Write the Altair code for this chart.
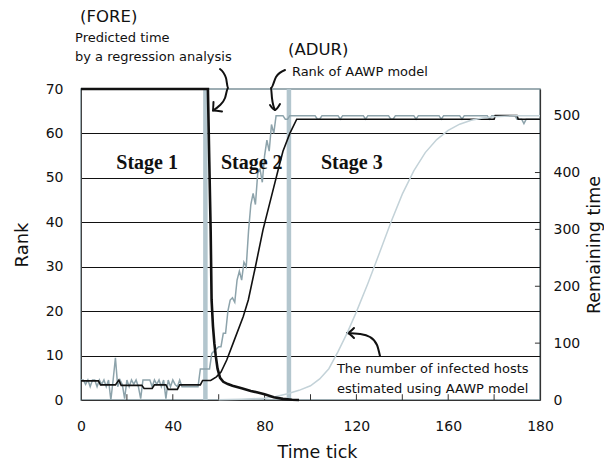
import altair as alt
import pandas as pd

FONT = "DejaVu Sans"
SERIF = "Liberation Serif"

# ---------------- data ----------------
# Rank of AAWP model (gray noisy line), one value per time tick 0..200
gray_stage1 = [4.5, 4.5, 3.5, 4.5, 3, 4.5, 4.5, 3, 4.5, 3.5,
               4.5, 3, 4.5, 0, 4.5, 9.5, 3, 4.5, 3.5, 0.3,
               4.5, 3, 4.5, 3.5, 4.5, 3, 0.3, 4.5, 4.5, 4.5,
               4.5, 3, 4.5, 3.5, 4.5, 3, 4.5, 0.3, 4.5, 3,
               4.5, 3.5, 3, 4.5, 3, 3, 3, 3, 3, 3,
               3, 3, 7, 7, 7]
gray_stage2 = [7, 7, 10.5, 11, 11.5, 12, 12, 15, 15, 20,
               22.5, 23, 22, 27, 29, 27, 31, 30, 38, 44,
               46.5, 44, 51, 52, 49, 55, 58.5, 56, 62, 60, 64]
gray_stage3 = [64, 64, 64, 63.2, 63.2, 64, 64, 64, 64, 64,
               64, 64, 64, 64, 64, 64, 64, 63.2, 63.2, 64,
               64, 64, 64, 64, 64, 64, 64, 63.2, 64, 64,
               64, 64, 64, 64, 64, 64, 64, 64, 63.2, 64,
               64, 64, 64, 64, 64, 64, 64, 64, 64, 63.2,
               63.2, 64, 64, 64, 64, 64, 64, 64, 64, 64,
               63.2, 64, 64, 64, 64, 64, 64, 64, 64, 64,
               64, 63.2, 64, 64, 64, 64, 64, 64, 64, 64,
               63.2, 64, 64, 64, 64, 64, 64, 64, 64, 64,
               64, 64, 63.2, 64, 64, 64, 64, 64, 64, 64,
               64, 64, 64, 64, 63.2, 63.2, 63.2, 62.2, 63.2, 63.2,
               63.2, 63.2, 63.2, 63.2, 63.2]
gray_rank = gray_stage1 + gray_stage2 + gray_stage3
gray_t = list(range(len(gray_rank)))

# Black rank line
black_t = [0, 7.6, 8.5, 15, 16.5, 17.5, 26.5, 27.5, 31, 32, 37, 38, 42, 43, 52, 53,
           56.5, 59, 61, 63.5, 66.3, 70.7, 72.9, 76, 79.3, 83.7, 86, 88, 91, 94,
           180, 180.5, 190, 190.5, 200]
black_rank = [4.3, 4.3, 3.4, 3.4, 4.5, 3.3, 3.3, 2.6, 2.6, 3.4, 3.4, 2.4, 2.4, 3.4, 3.4, 4.4,
              4.4, 5.2, 6.3, 9, 12.8, 18.8, 22.5, 30, 38.3, 47.3, 52, 56, 60, 63.2,
              63.2, 64, 64, 63.2, 63.2]

# (FORE) predicted remaining time (right axis)
fore_t = [0, 55.3, 55.9, 56.5, 56.9, 57.5, 58.1, 58.7, 59.5, 60.6, 62, 64, 66, 70,
          74, 77, 80, 84, 88, 92, 95]
fore_val = [547, 547, 420, 297, 176, 130, 100, 78, 55, 39, 32, 28, 25, 20.5,
            16, 13, 10, 5, 2, 0.5, 0]

# Number of infected hosts estimated using AAWP model (right axis)
sig_t = [60, 70, 80, 85, 90, 95, 100, 104, 108, 112, 116, 120, 125, 130, 135, 140,
         145, 150, 155, 160, 165, 170, 175, 180, 190, 200]
sig_val = [0.5, 1.5, 3, 6, 11, 17, 25, 37, 55, 85, 118, 155, 205, 258, 312, 362,
           403, 435, 458, 474, 485, 492, 496, 498, 500, 500]

stage_bounds = [54.2, 90.6]
x_minor_ticks = [20, 40, 60, 80, 100, 120, 140, 160, 180]
right_minor_ticks = [100, 200, 300, 400]
x_label_values = [0, 40, 80, 120, 160, 200]
left_values = [0, 10, 20, 30, 40, 50, 60, 70]
right_values = [0, 100, 200, 300, 400, 500]

# annotations (data coordinates: time tick, rank)
big_notes = pd.DataFrame({"x": [-0.4, 90.2], "y": [85.0, 77.6], "text": ["(FORE)", "(ADUR)"]})
small_notes = pd.DataFrame({
    "x": [-2.6, -2.6, 91.9, 111.5, 111.5],
    "y": [80.6, 76.3, 73.0, 6.0, 1.65],
    "text": ["Predicted time", "by a regression analysis", "Rank of AAWP model",
             "The number of infected hosts", "estimated using  AAWP model"]})
stage_notes = pd.DataFrame({"x": [28.8, 74.4, 118.0], "y": [52.0, 52.0, 52.0],
                            "text": ["Stage 1", "Stage 2", "Stage 3"]})

arrow_id = [1, 1, 1, 1, 1, 1, 2, 2, 2, 3, 3, 3, 3, 3, 4, 4, 4, 5, 5, 5, 5, 5, 6, 6, 6]
arrow_x = [60.57, 63.18, 64.05, 62.75, 60.13, 57.52, 57.73, 57.52, 61.44,
           88.89, 84.97, 82.79, 83.22, 84.53, 82.35, 84.53, 86.71,
           130.28, 128.98, 125.93, 121.57, 115.9, 118.95, 115.9, 118.95]
arrow_y = [74.5, 72.47, 70.22, 67.97, 66.17, 65.16, 67.07, 65.16, 64.96,
           74.27, 72.7, 70.22, 67.97, 65.27, 66.4, 65.27, 66.6,
           9.9, 12.38, 14.18, 14.85, 15.08, 16.2, 15.08, 13.95]

# ---------------- frames ----------------
df_gray = pd.DataFrame({"x": gray_t, "y": gray_rank})
df_black = pd.DataFrame({"x": black_t, "y": black_rank})
df_fore = pd.DataFrame({"x": fore_t, "y": fore_val})
df_sig = pd.DataFrame({"x": sig_t, "y": sig_val})
df_stage = pd.DataFrame({"x": stage_bounds, "y": 0, "y1": 70})
df_xt = pd.DataFrame({"x": x_minor_ticks, "y": 0, "y1": 1.3})
df_rt = pd.DataFrame({"y": right_minor_ticks, "x": 197.8, "x1": 200})
df_arrow = pd.DataFrame({"id": arrow_id, "x": arrow_x, "y": arrow_y,
                         "o": list(range(len(arrow_id)))})

xs = alt.Scale(domain=[0, 200], nice=False, zero=False)
ysl = alt.Scale(domain=[0, 70], nice=False, zero=False)
ysr = alt.Scale(domain=[0, 546.875], nice=False, zero=False)

x_axis = alt.Axis(values=x_label_values,
                  labelExpr="datum.value == 200 ? '180' : datum.label",
                  labelFlush=False,
                  ticks=False, grid=False, domainColor="#333", domainWidth=1.2,
                  labelFont=FONT, labelFontSize=14, labelPadding=19, labelColor="#111",
                  title="Time tick", titleFont=FONT, titleFontSize=17.5, titleFontWeight="normal",
                  titleX=236, titleY=57, titleBaseline="alphabetic", titleColor="#111")
yl_axis = alt.Axis(values=left_values, ticks=False, grid=True, labelFlush=False,
                   gridColor={"condition": {"test": "datum.value > 0 && datum.value < 70",
                                            "value": "#111"},
                              "value": "rgba(0,0,0,0)"},
                   gridWidth=1, domainColor="#444",
                   labelFont=FONT, labelFontSize=14, labelPadding=18, labelColor="#111",
                   title="Rank", titleFont=FONT, titleFontSize=18, titleFontWeight="normal",
                   titleAngle=270, titleX=-54, titleY=155.5, titleBaseline="alphabetic",
                   titleAlign="center", titleColor="#111")
yr_axis = alt.Axis(orient="right", values=right_values, ticks=False, grid=False,
                   labelFlush=False, domainColor="#333", domainWidth=1.2,
                   labelFont=FONT, labelFontSize=14, labelPadding=13, labelColor="#111",
                   title="Remaining time", titleFont=FONT, titleFontSize=17.5,
                   titleFontWeight="normal", titleAngle=270, titleX=59, titleY=155.5,
                   titleBaseline="alphabetic", titleAlign="center", titleColor="#111")


def XL():
    return alt.X("x:Q", scale=xs, axis=x_axis)


def YL():
    return alt.Y("y:Q", scale=ysl, axis=yl_axis)


def YR():
    return alt.Y("y:Q", scale=ysr, axis=yr_axis)


stages = alt.Chart(df_stage).mark_rule(color="#b3c6ce", strokeWidth=4.5).encode(
    x=XL(), y=YL(), y2="y1:Q")
gray = alt.Chart(df_gray).mark_line(color="#8da3ab", strokeWidth=1.5).encode(x=XL(), y=YL())
black = alt.Chart(df_black).mark_line(color="#111", strokeWidth=1.6).encode(x=XL(), y=YL())
xticks = alt.Chart(df_xt).mark_rule(color="#333", strokeWidth=1).encode(
    x=XL(), y=YL(), y2="y1:Q")
arrows = alt.Chart(df_arrow).mark_line(color="#111", strokeWidth=2, strokeCap="round",
                                       strokeJoin="round", interpolate="monotone").encode(
    x=XL(), y=YL(), detail="id:N", order="o:Q")
t_big = alt.Chart(big_notes).mark_text(font=FONT, fontSize=16.5, align="left",
                                       baseline="alphabetic", color="#111").encode(
    x=XL(), y=YL(), text="text:N")
t_small = alt.Chart(small_notes).mark_text(font=FONT, fontSize=13, align="left",
                                           baseline="alphabetic", color="#111").encode(
    x=XL(), y=YL(), text="text:N")
t_stage = alt.Chart(stage_notes).mark_text(font=SERIF, fontSize=20, fontWeight="bold",
                                           align="center", baseline="alphabetic",
                                           color="#111").encode(
    x=XL(), y=YL(), text="text:N")

left = alt.layer(stages, gray, black, xticks, arrows, t_big, t_small, t_stage)

sig = alt.Chart(df_sig).mark_line(color="#c3d2d8", strokeWidth=1.5).encode(x=XL(), y=YR())
fore = alt.Chart(df_fore).mark_line(color="#111", strokeWidth=2.6).encode(x=XL(), y=YR())
rticks = alt.Chart(df_rt).mark_rule(color="#333", strokeWidth=1).encode(
    y=YR(), x=XL(), x2="x1:Q")

right = alt.layer(sig, fore, rticks)

chart = alt.layer(left, right).resolve_scale(y="independent").properties(
    width=459, height=311,
    autosize=alt.AutoSizeParams(type="none"),
    padding={"left": 73, "top": 81, "right": 64, "bottom": 61},
).configure_view(stroke="#7d929a", strokeWidth=1.5)

chart.save("out.html", embed_options={"renderer": "svg", "actions": False})
